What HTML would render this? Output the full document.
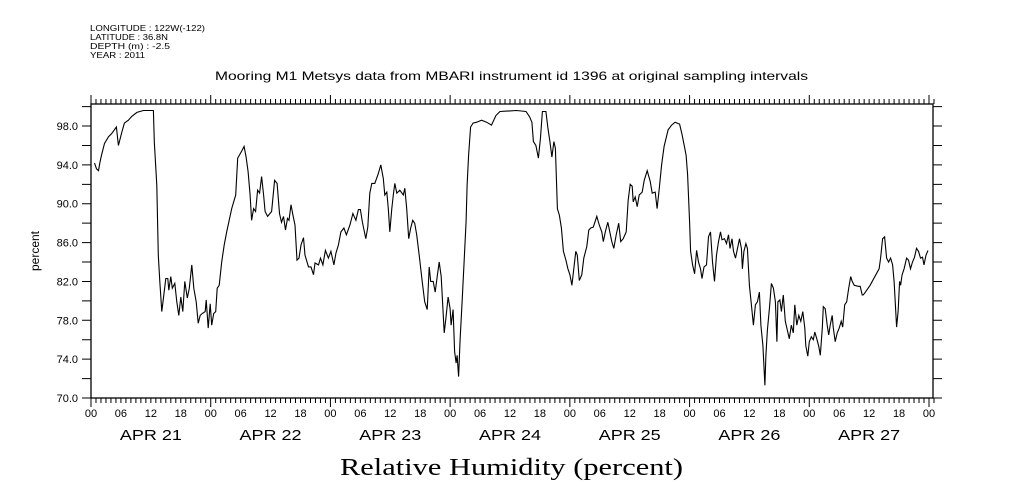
<!DOCTYPE html>
<html><head><meta charset="utf-8"><style>
body{margin:0;background:#fff;width:1009px;height:504px;overflow:hidden}
svg{display:block}
text{font-family:"Liberation Sans",sans-serif;fill:#000}
</style></head><body>
<svg id="chart" width="1009" height="504">
<g font-size="8">
<text x="90" y="31" textLength="115" lengthAdjust="spacingAndGlyphs">LONGITUDE : 122W(-122)</text>
<text x="90" y="40" textLength="78" lengthAdjust="spacingAndGlyphs">LATITUDE : 36.8N</text>
<text x="90" y="49" textLength="80" lengthAdjust="spacingAndGlyphs">DEPTH (m) : -2.5</text>
<text x="90" y="58" textLength="55" lengthAdjust="spacingAndGlyphs">YEAR : 2011</text>
</g>
<text x="215" y="80" font-size="12" textLength="593" lengthAdjust="spacingAndGlyphs">Mooring M1 Metsys data from MBARI instrument id 1396 at original sampling intervals</text>
<text x="0" y="0" font-size="12" text-anchor="middle" transform="translate(39,251) rotate(-90)">percent</text>
<text x="340" y="475" font-size="24" textLength="343" lengthAdjust="spacingAndGlyphs" style="font-family:'Liberation Serif',serif">Relative Humidity (percent)</text>
<g id="axes"></g>
<path id="line" fill="none" stroke="#000" stroke-width="1.1"/>
</svg>
<script>
const hours=[0.7,1.1,1.5,1.8,2.1,2.7,3.5,4.1,5.1,5.5,6.2,6.7,7.5,8.2,9.2,10.5,12.5,12.7,13.2,13.5,13.8,14.2,14.6,15.0,15.4,15.6,16.0,16.3,16.8,17.2,17.6,18.0,18.4,18.8,19.3,19.7,20.2,20.6,21.1,21.5,21.9,22.3,22.9,23.1,23.5,23.9,24.2,24.6,25.0,25.3,25.7,26.2,26.7,27.2,28.2,29.0,29.4,30.2,30.7,31.1,31.5,31.9,32.2,32.6,33.0,33.4,33.8,34.2,34.6,34.9,35.4,36.2,36.8,37.3,37.8,38.2,38.6,39.0,39.4,39.7,40.1,40.5,40.9,41.3,41.7,42.1,42.6,42.9,43.6,44.1,44.6,44.9,45.6,46.0,46.5,47.0,47.6,48.1,48.7,49.1,49.6,50.1,50.7,51.2,51.9,52.5,53.1,53.6,54.0,54.4,55.1,55.5,
55.9,56.3,56.9,57.6,58.1,58.6,58.9,59.3,59.6,59.9,60.3,60.6,60.9,61.3,61.9,62.6,62.9,63.3,63.7,64.1,64.5,64.9,65.3,65.8,66.4,66.9,67.4,67.8,68.1,68.6,69.0,69.4,69.8,70.2,70.8,71.2,71.6,72.0,72.2,72.6,72.9,73.2,73.4,73.7,74.0,74.4,74.8,75.2,75.4,75.7,76.1,76.6,77.3,78.3,79.3,80.3,81.2,82.0,85.3,87.2,87.9,88.4,88.7,89.2,89.7,90.1,90.5,91.2,91.6,92.0,92.4,92.8,93.1,93.5,93.9,94.3,94.7,95.2,95.6,96.0,96.4,96.8,97.2,97.5,97.9,98.4,98.8,99.4,99.8,100.2,100.7,101.4,101.9,102.4,102.7,103.1,103.6,104.0,104.4,104.8,105.3,105.8,106.2,106.7,107.3,107.7,108.1,108.5,108.7,109.1,109.5,109.9,110.5,110.9,111.5,
112.1,112.5,113.1,113.5,113.9,114.4,114.9,115.7,116.4,117.1,118.0,118.5,119.3,119.6,120.0,120.2,120.6,121.0,121.4,121.8,122.2,122.5,122.9,123.4,123.8,124.2,124.6,125.0,125.4,125.8,126.2,126.5,127.0,127.4,127.8,128.1,128.5,128.8,129.2,129.6,130.0,130.4,130.6,130.9,131.3,131.6,132.0,132.4,132.8,133.2,133.6,134.0,134.3,134.7,135.1,135.3,135.6,136.0,136.4,136.8,137.2,137.5,137.7,138.1,138.4,138.8,139.2,139.6,140.0,140.4,140.8,141.1,141.5,141.9,142.3,142.7,143.1,143.3,143.7,144.0,144.4,144.8,145.1,145.5,145.9,146.2,146.6,146.8,147.2,147.6,147.9,148.2,148.6,148.8,149.2,149.6,150.0,150.4,150.7,151.1,151.5,151.9,152.3,152.6,153.0,153.8,154.2,154.6,154.8,155.1,156.2,158.0,158.3,158.7,159.1,159.5,159.9,160.3,160.7,161.0,161.3,161.5,161.8,162.1,162.3,162.6,163.0,163.5,163.9,164.3,164.7,165.1,165.5,165.9,166.3,166.7,167.0,167.4,167.8];
const humidity=[94.2,93.6,93.4,94.3,95.0,96.2,96.9,97.2,97.9,96.0,97.4,98.3,98.6,99.0,99.4,99.6,99.6,96.4,91.9,84.7,82.0,78.9,80.6,82.3,82.3,81.1,82.5,81.3,81.8,79.9,78.5,80.4,78.9,82.0,80.3,81.3,83.7,81.3,79.9,77.7,78.5,78.7,78.9,80.1,77.2,79.7,77.5,78.7,78.9,81.3,81.6,84.0,85.75,87.1,89.5,90.9,94.7,95.4,95.9,94.8,93.3,90.9,88.3,89.5,89.2,91.4,91.1,92.8,90.9,89.2,88.7,89.2,92.4,92.1,89.0,88.1,88.7,87.3,88.5,88.3,89.9,88.8,87.8,84.2,84.4,85.75,86.5,84.7,83.5,83.5,82.7,83.9,83.7,84.4,83.7,85.2,84.4,85.1,83.7,84.9,85.75,87.1,87.5,86.8,87.8,89.0,88.3,89.4,89.4,88.1,86.4,87.6,
91.1,92.1,92.1,93.1,94.0,92.6,90.9,91.2,89.5,87.1,89.5,90.9,92.1,91.1,91.4,90.9,91.6,89.5,86.4,87.5,88.3,88.0,86.8,84.7,82.0,79.9,79.1,83.5,82.0,82.0,80.9,82.5,84.0,82.5,76.7,78.5,80.4,79.2,77.5,79.1,74.8,73.6,74.4,72.2,76.0,79.9,84.0,88.2,91.9,95.0,97.9,98.3,98.4,98.6,98.4,98.1,99.1,99.5,99.6,99.5,98.96,98.4,96.4,96.0,94.7,96.7,99.5,99.5,97.8,96.4,94.8,96.4,95.7,89.5,88.8,87.5,85.1,84.2,83.3,82.7,81.6,83.3,85.1,84.7,82.1,82.7,84.4,85.6,87.3,87.5,87.6,88.7,87.8,87.1,86.1,87.1,88.1,87.1,86.1,85.4,86.8,88.0,86.1,86.4,87.1,90.4,92.0,91.8,90.2,90.7,89.7,90.9,91.2,92.4,93.4,
92.3,91.1,91.2,89.5,91.4,94.0,95.9,97.6,98.1,98.4,98.2,97.1,95.0,93.0,88.1,85.1,83.7,82.8,85.2,84.0,83.3,82.3,83.5,83.7,86.6,87.1,84.0,82.0,84.7,86.1,87.1,86.3,86.4,85.9,86.8,85.4,86.4,85.1,84.4,85.4,86.4,85.4,83.3,85.1,85.9,85.4,81.6,79.6,77.5,79.6,79.9,80.9,77.5,75.4,71.3,74.4,77.0,79.2,81.8,81.3,79.9,75.8,79.9,80.1,78.9,80.6,77.9,77.0,76.1,77.5,76.7,79.6,77.5,78.5,77.9,78.9,77.2,75.4,74.3,75.8,76.3,76.0,76.8,76.1,75.3,74.4,77.2,79.4,79.2,77.5,76.5,77.5,78.5,77.3,75.8,76.7,77.2,77.9,77.3,79.6,79.9,81.3,82.5,82.0,81.6,81.5,81.5,80.6,80.6,80.8,81.6,83.3,84.4,86.4,86.6,84.4,84.0,84.4,83.7,82.0,79.2,77.3,78.9,82.0,81.6,82.7,83.3,84.4,84.2,83.3,84.0,84.5,85.4,85.1,84.4,84.5,83.7,84.7,85.2];
const yTickLabels=["70.0","74.0","78.0","82.0","86.0","90.0","94.0","98.0"];
const hourLabels=["00","06","12","18"];
const dayLabels=["APR 21","APR 22","APR 23","APR 24","APR 25","APR 26","APR 27"];

const L=91,R=933,T=104,B=398;
const X=h=>L+h*(838/168);
const Y=v=>B-(v-70)*(294/30.27);
const NS="http://www.w3.org/2000/svg";
const ax=document.getElementById('axes');
function el(tag,attrs,txt){const e=document.createElementNS(NS,tag);for(const k in attrs)e.setAttribute(k,attrs[k]);if(txt!==undefined)e.textContent=txt;ax.appendChild(e);return e;}
const frame=el('rect',{x:L,y:T,width:R-L,height:B-T,fill:'none',stroke:'#000','stroke-width':1.3});


let d='';
for(let h=0;h<=169;h++){const x=X(h);const len=h%24===0?9:5;d+=`M${x} ${T}V${T-len}M${x} ${B}V${B+len}`;}
for(let v=70;v<=100;v+=2){const y=Y(v);d+=`M${L} ${y}H${L-9}M${R} ${y}H${R+9}`;}
const ticks=el('path',{d:d,stroke:'#000','stroke-width':1,fill:'none'});


yTickLabels.forEach(s=>{const t=el('text',{x:78,y:Y(parseFloat(s))+4,'font-size':11,'text-anchor':'end'},s);

});
for(let h=0;h<=168;h+=6){const t=el('text',{x:X(h),y:417,'font-size':11,'text-anchor':'middle'},hourLabels[(h/6)%4]);

}
dayLabels.forEach((s,i)=>{const t=el('text',{x:X(i*24+12)-31,y:440,'font-size':15,textLength:62,lengthAdjust:'spacingAndGlyphs'},s);

});
document.getElementById('line').setAttribute('d',hours.map((h,i)=>(i?'L':'M')+X(h).toFixed(1)+' '+Y(humidity[i]).toFixed(1)).join(''));
</script>
</body></html>
